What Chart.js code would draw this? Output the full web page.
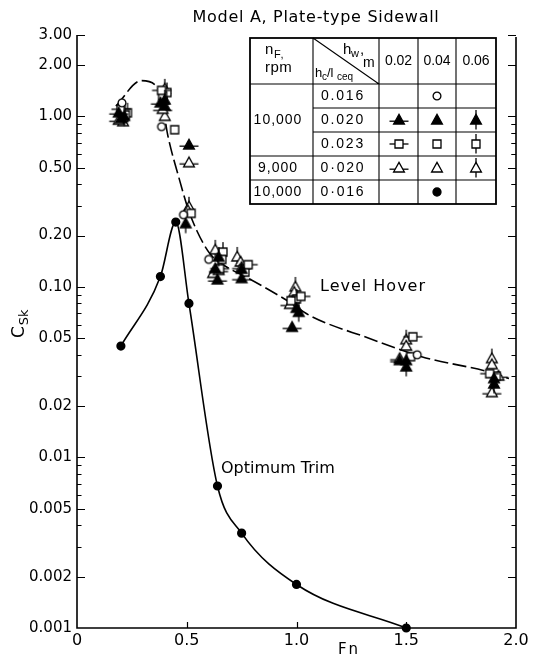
<!DOCTYPE html>
<html>
<head>
<meta charset="utf-8">
<script src="https://cdn.jsdelivr.net/npm/chart.js@4.4.1/dist/chart.umd.min.js"></script>
<style>
  html, body { margin: 0; padding: 0; background: #fff; }
  canvas { display: block; }
</style>
</head>
<body>
<canvas id="chart" width="539" height="659"></canvas>
<script>
// ---- axis ticks ----
const fnTickValues = [0, 0.5, 1.0, 1.5, 2.0];
const fnTickLabels = ['0', '0.5', '1.0', '1.5', '2.0'];
const cskLabelValues = [0.001, 0.002, 0.005, 0.01, 0.02, 0.05, 0.1, 0.2, 0.5, 1, 2, 3];
const cskLabelTexts = ['0.001', '0.002', '0.005', '0.01', '0.02', '0.05', '0.10', '0.20', '0.50', '1.00', '2.00', '3.00'];
const cskMinorMantissas = [3, 4, 6, 7, 8, 9];
const cskDecades = [-3, -2, -1];

// ---- level hover measurements (nF rpm, hc/lceq, hw m) ----
// 10,000 / 0.016 / 0.04  (open circle)
const openCircleFn = [0.205, 0.385, 0.485, 0.60, 1.55];
const openCircleC  = [1.20, 0.87, 0.265, 0.145, 0.040];
// 10,000 / 0.020 / 0.02  (filled triangle, horizontal tick)
const filledTriHFn = [0.19, 0.38, 0.51, 0.64, 0.75, 0.98, 1.47];
const filledTriHC  = [1.05, 1.20, 0.68, 0.11, 0.112, 0.058, 0.037];
// 10,000 / 0.020 / 0.04  (filled triangle)
const filledTriFn = [0.20, 0.40, 0.63, 0.75, 1.00, 1.50, 1.90];
const filledTriC  = [0.97, 1.15, 0.128, 0.127, 0.075, 0.037, 0.029];
// 10,000 / 0.020 / 0.06  (filled triangle, vertical tick)
const filledTriVFn = [0.215, 0.40, 0.495, 0.645, 1.01, 1.50, 1.90];
const filledTriVC  = [1.00, 1.25, 0.235, 0.15, 0.071, 0.034, 0.027];
// 10,000 / 0.023 / 0.02  (open square, horizontal tick)
const squareHFn = [0.20, 0.385, 0.65, 0.78, 1.02, 1.53, 1.88];
const squareHC  = [1.10, 1.42, 0.128, 0.135, 0.088, 0.051, 0.031];
// 10,000 / 0.023 / 0.04  (open square)
const squareFn = [0.22, 0.39, 0.445, 0.52, 0.66, 0.765, 0.975, 1.52, 1.91];
const squareC  = [1.02, 1.32, 0.835, 0.27, 0.145, 0.122, 0.083, 0.039, 0.030];
// 10,000 / 0.023 / 0.06  (open square, vertical tick)
const squareVFn = [0.23, 0.41, 0.665, 1.00];
const squareVC  = [1.05, 1.38, 0.16, 0.085];
// 9,000 / 0.020 / 0.02  (open triangle, horizontal tick)
const openTriHFn = [0.19, 0.39, 0.51, 0.645, 0.75, 0.97, 1.47, 1.92, 1.89];
const openTriHC  = [0.95, 1.10, 0.535, 0.125, 0.13, 0.079, 0.038, 0.030, 0.024];
// 9,000 / 0.020 / 0.04  (open triangle)
const openTriFn = [0.21, 0.40, 0.505, 0.62, 0.745, 0.99, 1.50, 1.89];
const openTriC  = [0.93, 1.00, 0.28, 0.12, 0.14, 0.093, 0.045, 0.035];
// 9,000 / 0.020 / 0.06  (open triangle, vertical tick)
const openTriVFn = [0.20, 0.40, 0.51, 0.63, 0.73, 0.995, 1.50, 1.89];
const openTriVC  = [1.08, 1.45, 0.295, 0.165, 0.15, 0.10, 0.049, 0.038];

// ---- faired level hover curve ----
const hoverCurveFn = [0.177, 0.294, 0.377, 0.414, 0.468, 0.505, 0.545, 0.605, 0.709, 0.755, 0.955, 1.06, 1.33, 1.57, 1.877, 1.968];
const hoverCurveC  = [1.15, 1.62, 1.41, 0.77, 0.42, 0.29, 0.215, 0.157, 0.125, 0.117, 0.0835, 0.068, 0.05, 0.039, 0.0317, 0.029];

// ---- optimum trim (10,000 / 0.016 / 0.04, filled circle) ----
const trimFn = [0.20, 0.38, 0.45, 0.51, 0.64, 0.75, 1.00, 1.50];
const trimC  = [0.045, 0.115, 0.24, 0.08, 0.0068, 0.0036, 0.0018, 0.001];

// ---------------------------------------------------------------
const FONT = '"DejaVu Sans", sans-serif';
const TFONT = '"Liberation Sans", Arial, sans-serif';

function pts(xs, ys) { return xs.map((x, i) => ({ x: x, y: ys[i] })); }

// marker glyphs drawn into small canvases and used as point styles
function marker(shape, bar) {
  const s = 26, c = document.createElement('canvas');
  c.width = s; c.height = s;
  const g = c.getContext('2d');
  g.translate(s / 2, s / 2);
  g.strokeStyle = '#000';
  g.lineWidth = 1.3;
  g.lineCap = 'butt';
  if (bar === 'h') {
    const y = shape.startsWith('tri') ? 1.2 : 0;
    g.beginPath(); g.moveTo(-9.5, y); g.lineTo(9.5, y); g.stroke();
  } else if (bar === 'v') {
    g.beginPath(); g.moveTo(0, -10); g.lineTo(0, 9.5); g.stroke();
  }
  g.fillStyle = shape.endsWith('F') ? '#000' : '#fff';
  g.beginPath();
  if (shape.startsWith('tri')) {
    g.moveTo(0, -5.6); g.lineTo(5.4, 4); g.lineTo(-5.4, 4); g.closePath();
  } else if (shape.startsWith('sq')) {
    g.rect(-4, -4, 8, 8);
  } else {
    g.arc(0, 0, shape.endsWith('F') ? 4 : 3.9, 0, Math.PI * 2);
  }
  g.fill(); g.stroke();
  return c;
}

const M = {
  circle: marker('circO'),
  dot: marker('circF'),
  triFH: marker('triF', 'h'),
  triF: marker('triF'),
  triFV: marker('triF', 'v'),
  sqH: marker('sqO', 'h'),
  sq: marker('sqO'),
  sqV: marker('sqO', 'v'),
  triOH: marker('triO', 'h'),
  triO: marker('triO'),
  triOV: marker('triO', 'v')
};

function markerSet(label, xs, ys, style) {
  return {
    label: label, data: pts(xs, ys), showLine: false,
    pointStyle: style, pointRadius: 5, pointHoverRadius: 5,
    order: 0, clip: false
  };
}

const datasets = [
  markerSet('10,000 0.016 0.04', openCircleFn, openCircleC, M.circle),
  markerSet('10,000 0.020 0.02', filledTriHFn, filledTriHC, M.triFH),
  markerSet('10,000 0.020 0.04', filledTriFn, filledTriC, M.triF),
  markerSet('10,000 0.020 0.06', filledTriVFn, filledTriVC, M.triFV),
  markerSet('10,000 0.023 0.02', squareHFn, squareHC, M.sqH),
  markerSet('10,000 0.023 0.04', squareFn, squareC, M.sq),
  markerSet('10,000 0.023 0.06', squareVFn, squareVC, M.sqV),
  markerSet('9,000 0.020 0.02', openTriHFn, openTriHC, M.triOH),
  markerSet('9,000 0.020 0.04', openTriFn, openTriC, M.triO),
  markerSet('9,000 0.020 0.06', openTriVFn, openTriVC, M.triOV),
  {
    label: 'Level Hover', data: pts(hoverCurveFn, hoverCurveC), showLine: true,
    borderColor: '#000', borderWidth: 1.6, borderDash: [14, 4.5],
    pointRadius: 0, cubicInterpolationMode: 'monotone', order: 5
  },
  {
    label: 'Optimum Trim', data: pts(trimFn, trimC), showLine: true,
    borderColor: '#000', borderWidth: 1.6,
    pointStyle: 'circle', pointRadius: 3.8, pointBackgroundColor: '#000', pointBorderColor: '#000',
    cubicInterpolationMode: 'monotone', order: 4, clip: false
  }
];

function text(ctx, s, x, y, size, align, spacing, family) {
  ctx.font = size + 'px ' + (family || FONT);
  ctx.letterSpacing = (spacing || 0) + 'px';
  ctx.textAlign = align || 'left';
  ctx.textBaseline = 'middle';
  ctx.fillStyle = '#000';
  ctx.fillText(s, x, y);
  ctx.letterSpacing = '0px';
}

const decor = {
  id: 'decor',
  afterDraw(chart) {
    const ctx = chart.ctx, ca = chart.chartArea;
    const xs = chart.scales.x, ys = chart.scales.y;
    ctx.save();
    ctx.strokeStyle = '#000';

    // frame: left, bottom, right axes
    ctx.lineWidth = 1.6;
    ctx.beginPath();
    ctx.moveTo(ca.left, ca.top); ctx.lineTo(ca.left, ca.bottom); ctx.lineTo(ca.right, ca.bottom);
    ctx.lineTo(ca.right, ca.top + 2);
    ctx.stroke();

    // log ticks, inward on both vertical axes
    ctx.lineWidth = 1.2;
    const major = cskLabelValues;
    const minor = [];
    cskDecades.forEach(e => cskMinorMantissas.forEach(m => minor.push(+(m * Math.pow(10, e)).toPrecision(3))));
    [0.3, 0.4, 0.6, 0.7, 0.8, 0.9].forEach(v => minor.push(v));
    const tick = (v, len) => {
      const y = Math.round(ys.getPixelForValue(v)) + 0.5;
      ctx.beginPath();
      ctx.moveTo(ca.left, y); ctx.lineTo(ca.left + len, y);
      ctx.moveTo(ca.right, y); ctx.lineTo(ca.right - len, y);
      ctx.stroke();
    };
    major.forEach(v => { if (v > 0.001) tick(v, 8); });
    minor.forEach(v => { if (v > 0.001 && v < 3) tick(v, 4.5); });
    fnTickValues.forEach(v => {
      if (v <= 0 || v >= 2) return;
      const x = Math.round(xs.getPixelForValue(v)) + 0.5;
      ctx.beginPath(); ctx.moveTo(x, ca.bottom); ctx.lineTo(x, ca.bottom - 6); ctx.stroke();
    });

    // title
    text(ctx, 'Model A, Plate-type Sidewall', 316, 18, 16, 'center', 0.7);

    // axis titles
    text(ctx, 'Fn', 349, 650, 15, 'center', 2);
    ctx.save();
    ctx.translate(24, 338);
    ctx.rotate(-Math.PI / 2);
    ctx.font = '17px ' + FONT;
    ctx.textAlign = 'left'; ctx.textBaseline = 'alphabetic'; ctx.fillStyle = '#000';
    ctx.fillText('C', 0, 0);
    const cw = ctx.measureText('C').width;
    ctx.font = '13px ' + FONT;
    ctx.fillText('Sk', cw + 1, 4);
    ctx.restore();

    // curve annotations
    text(ctx, 'Level Hover', 320, 287, 16, 'left', 1);
    text(ctx, 'Optimum Trim', 221, 469, 16, 'left', 0);

    // condition table
    const colX = [250, 313, 379, 418, 456, 496];
    const rowY = [38, 84, 108, 132, 156, 180, 204];
    ctx.fillStyle = '#fff';
    ctx.fillRect(colX[0], rowY[0], colX[5] - colX[0], rowY[6] - rowY[0]);
    ctx.lineWidth = 1.1;
    ctx.beginPath();
    [1, 2, 3, 4].forEach(i => { ctx.moveTo(colX[i], rowY[0]); ctx.lineTo(colX[i], rowY[6]); });
    [1, 4, 5].forEach(j => { ctx.moveTo(colX[0], rowY[j]); ctx.lineTo(colX[5], rowY[j]); });
    [2, 3].forEach(j => { ctx.moveTo(colX[1], rowY[j]); ctx.lineTo(colX[5], rowY[j]); });
    ctx.moveTo(colX[1], rowY[0]); ctx.lineTo(colX[2], rowY[1]);
    ctx.stroke();
    ctx.lineWidth = 1.8;
    ctx.strokeRect(colX[0], rowY[0], colX[5] - colX[0], rowY[6] - rowY[0]);

    // header cells
    text(ctx, 'n', 265, 50, 15, 'left', 0, TFONT);
    text(ctx, 'F,', 274, 55, 11, 'left', 1, TFONT);
    text(ctx, 'rpm', 265, 68, 15, 'left', 0.5, TFONT);
    text(ctx, 'h', 343, 50, 15, 'left', 0, TFONT);
    text(ctx, 'w', 351, 54, 11, 'left', 0, TFONT);
    text(ctx, ',', 360, 50, 15, 'left', 0, TFONT);
    text(ctx, 'm', 363, 63, 14, 'left', 0, TFONT);
    text(ctx, 'h', 315, 73, 13, 'left', 0, TFONT);
    text(ctx, 'c', 322, 77, 10, 'left', 0, TFONT);
    text(ctx, '/l', 327, 73, 13, 'left', 0, TFONT);
    text(ctx, 'ceq', 337, 77, 10, 'left', 0, TFONT);
    const hwLabels = ['0.02', '0.04', '0.06'];
    hwLabels.forEach((s, i) => text(ctx, s, (colX[i + 2] + colX[i + 3]) / 2, 61, 14, 'center', 0, TFONT));

    // row labels
    const mid = j => (rowY[j] + rowY[j + 1]) / 2;
    text(ctx, '10,000', 278, mid(2), 14, 'center', 1, TFONT);
    text(ctx, '9,000', 278, mid(4), 14, 'center', 1, TFONT);
    text(ctx, '10,000', 278, mid(5), 14, 'center', 1, TFONT);
    const ratioLabels = ['0.016', '0.020', '0.023', '0·020', '0·016'];
    ratioLabels.forEach((s, k) => text(ctx, s, 343, mid(k + 1), 14, 'center', 1.8, TFONT));

    // table symbols
    const cx = i => (colX[i + 2] + colX[i + 3]) / 2;
    const put = (img, i, j) => ctx.drawImage(img, Math.round(cx(i) - img.width / 2), Math.round(mid(j) - img.height / 2));
    put(M.circle, 1, 1);
    put(M.triFH, 0, 2); put(M.triF, 1, 2); put(M.triFV, 2, 2);
    put(M.sqH, 0, 3); put(M.sq, 1, 3); put(M.sqV, 2, 3);
    put(M.triOH, 0, 4); put(M.triO, 1, 4); put(M.triOV, 2, 4);
    put(M.dot, 1, 5);

    ctx.restore();
  }
};

new Chart(document.getElementById('chart'), {
  type: 'scatter',
  data: { datasets: datasets },
  options: {
    responsive: false,
    animation: false,
    events: [],
    layout: { padding: { top: 35, right: 23, bottom: 0, left: 0 } },
    plugins: { legend: { display: false }, title: { display: false }, tooltip: { enabled: false } },
    scales: {
      x: {
        type: 'linear', min: 0, max: 2,
        grid: { display: false, drawTicks: false },
        border: { display: false },
        afterBuildTicks: s => { s.ticks = fnTickValues.map(v => ({ value: v })); },
        afterFit: s => { s.height = 31; },
        ticks: {
          autoSkip: false, maxRotation: 0, padding: 3, color: '#000',
          font: { family: FONT, size: 16 },
          callback: v => { const i = fnTickValues.indexOf(v); return i < 0 ? '' : fnTickLabels[i]; }
        }
      },
      y: {
        type: 'logarithmic', min: 0.001, max: 3,
        grid: { display: false, drawTicks: false },
        border: { display: false },
        afterBuildTicks: s => { s.ticks = cskLabelValues.map(v => ({ value: v })); },
        afterFit: s => { s.width = 77; },
        ticks: {
          autoSkip: false, padding: 5, color: '#000',
          font: { family: FONT, size: 15 },
          callback: (v, i, ticks) => {
            const k = cskLabelValues.findIndex(c => Math.abs(c - ticks[i].value) < 1e-9);
            return k < 0 ? '' : cskLabelTexts[k];
          }
        }
      }
    }
  },
  plugins: [decor]
});
</script>
</body>
</html>
